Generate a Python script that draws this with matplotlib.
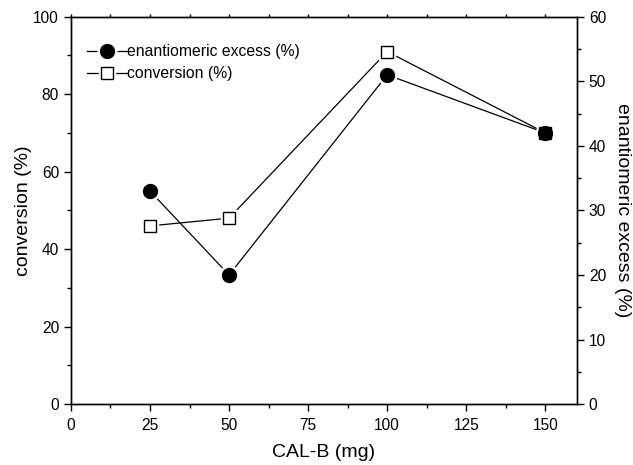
import matplotlib
matplotlib.use("Agg")
import matplotlib.pyplot as plt
from matplotlib.ticker import MultipleLocator
from matplotlib.lines import Line2D
from matplotlib.legend_handler import HandlerTuple

plt.rcParams['font.family'] = ['Liberation Sans', 'DejaVu Sans']

cal_b = [25, 50, 100, 150]
conversion = [46, 48, 91, 70]
ee = [33, 20, 51, 42]

fig = plt.figure(figsize=(6.33, 4.65), dpi=100)
ax1 = fig.add_axes([0.112, 0.131, 0.7995, 0.833])
ax2 = ax1.twinx()
ax1.set_xlim(0, 160)
ax1.set_ylim(0, 100)
ax2.set_ylim(0, 60)

# conversion line with white halo under markers
ax1.plot(cal_b, conversion, '-', color='black', lw=0.9)
ax1.plot(cal_b, conversion, 's', ms=12, mfc='white', mec='white', ls='none')
# ee on right axis
ax2.plot(cal_b, ee, '-', color='black', lw=0.9)
ax2.plot(cal_b, ee, 'o', ms=13.5, mfc='white', mec='white', ls='none')
# conversion squares drawn on the upper axes in left-axis coordinates
ax2.plot(cal_b, conversion, 's', ms=8.5, mfc='white', mec='black', mew=1.0, ls='none',
         transform=ax1.transData)
ax2.plot(cal_b, ee, 'o', ms=10, mfc='black', mec='black', ls='none')
ax2.set_ylim(0, 60)

ax1.xaxis.set_major_locator(MultipleLocator(25))
ax1.xaxis.set_minor_locator(MultipleLocator(12.5))
ax1.yaxis.set_major_locator(MultipleLocator(20))
ax1.yaxis.set_minor_locator(MultipleLocator(10))
ax2.yaxis.set_major_locator(MultipleLocator(10))
ax2.yaxis.set_minor_locator(MultipleLocator(5))

for ax in (ax1, ax2):
    for s in ax.spines.values():
        s.set_linewidth(1.0)
ax1.tick_params(which='major', direction='out', length=5, width=1, labelsize=11.2, top=True)
ax1.tick_params(which='minor', direction='out', length=3, width=1, top=True)
ax1.tick_params(axis='x', which='both', top=True, labeltop=False)
ax1.tick_params(axis='x', which='major', pad=5)
ax2.tick_params(which='major', direction='out', length=5, width=1, labelsize=11.2)
ax2.tick_params(which='minor', direction='out', length=3, width=1)
for t in ax1.xaxis.get_major_ticks() + ax1.xaxis.get_minor_ticks():
    t.tick2line.set_markersize(2)

ax1.set_xlabel('CAL-B (mg)', fontsize=14, labelpad=8)
ax1.set_ylabel('conversion (%)', fontsize=14, labelpad=1)
ax2.set_ylabel('enantiomeric excess (%)', fontsize=14, rotation=270, labelpad=18)

line_h = Line2D([], [], color='black', lw=0.9)
h1 = (line_h,
      Line2D([], [], ls='none', marker='o', ms=13.5, mfc='white', mec='white'),
      Line2D([], [], ls='none', marker='o', ms=10, mfc='black', mec='black'))
h2 = (line_h,
      Line2D([], [], ls='none', marker='s', ms=12, mfc='white', mec='white'),
      Line2D([], [], ls='none', marker='s', ms=8.5, mfc='white', mec='black', mew=1.0))
leg = ax2.legend(handles=[h1, h2], labels=['enantiomeric excess (%)', 'conversion (%)'],
                 handler_map={tuple: HandlerTuple(ndivide=1, pad=0)},
                 loc='upper left', frameon=False, fontsize=11.3,
                 handlelength=2.6, handletextpad=0.0, labelspacing=0.45,
                 bbox_to_anchor=(0.0, 0.97), borderaxespad=0.6)

fig.savefig('out.png', dpi=100)
